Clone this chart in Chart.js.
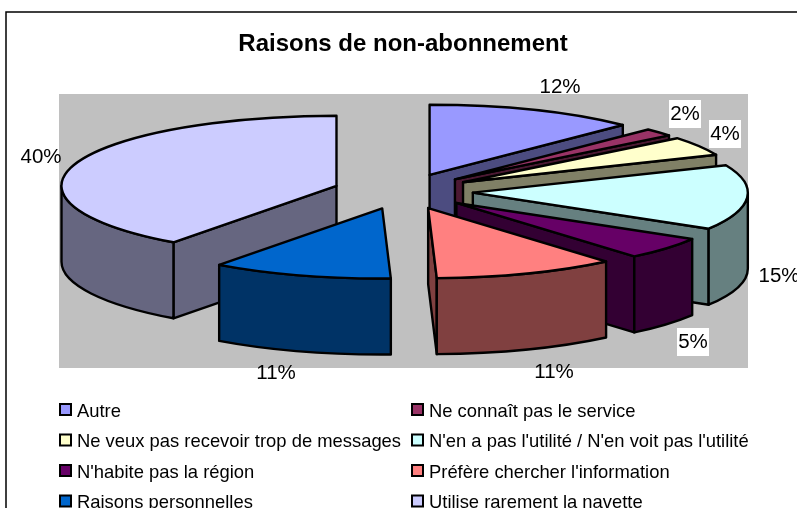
<!DOCTYPE html>
<html>
<head>
<meta charset="utf-8">
<style>
  html, body { margin: 0; padding: 0; background: #fff; overflow: hidden; }
  canvas { display: block; }
</style>
<script src="https://cdn.jsdelivr.net/npm/chart.js@4"></script>
</head>
<body>
<canvas id="pieChart" width="797" height="508"></canvas>
<script>
// Chart data (shares, the labels round them)
const categories = ['Autre', 'Ne connaît pas le service', 'Ne veux pas recevoir trop de messages',
    "N'en a pas l'utilité / N'en voit pas l'utilité", "N'habite pas la région",
    "Préfère chercher l'information", 'Raisons personnelles', 'Utilise rarement la navette'];
const values = [12.4, 1.8, 4.4, 15.0, 5.2, 10.7, 10.6, 39.9];

// Colours: top face and side wall of each slice
const faceColors = ['#9999FF', '#993366', '#FFFFCC', '#CCFFFF', '#660066', '#FF8080', '#0066CC', '#CCCCFF'];
const wallColors = ['#4C4C80', '#4C1933', '#808066', '#668080', '#330033', '#804040', '#003366', '#666680'];

// Where Excel left the percentage labels, [x, y, white box]
const labelSpots = [[560, 87, false], [685, 114, true], [725, 134, true], [779, 276, false],
    [693, 342, true], [554, 372, false], [276, 373, false], [41, 157, false]];

// Tilted pie settings
const squash = 0.255;
const depth = 76;
const explode = 70;
const FONT = '"Liberation Sans", Arial, sans-serif';

// Draw the pie as exploded, squashed slices with side walls
const tiltedPie = {
    id: 'tiltedPie',
    beforeDraw(chart) {
        const c = chart.ctx;
        c.save();
        c.strokeStyle = '#000';
        c.lineWidth = 1.5;
        c.strokeRect(6, 12, 820, 520); // frame runs off the right and bottom edge
        c.restore();
    },
    beforeDatasetDraw() {
        return false; // the stock flat arcs are replaced below
    },
    beforeDatasetsDraw(chart) {
        const c = chart.ctx;
        c.fillStyle = '#C0C0C0';
        c.fillRect(59, 94, 689, 274);
    },
    afterDatasetsDraw(chart) {
        const c = chart.ctx;
        const slices = chart.getDatasetMeta(0).data.map((arc, i) => {
            const mid = (arc.startAngle + arc.endAngle) / 2;
            return {
                i, r: arc.outerRadius, a: arc.startAngle, b: arc.endAngle,
                x: arc.x + Math.cos(mid) * explode,
                y: arc.y + Math.sin(mid) * explode * squash
            };
        });
        slices.sort((p, q) => p.y - q.y);

        c.save();
        c.strokeStyle = '#000';
        c.lineWidth = 2.4;
        c.lineJoin = 'round';
        slices.forEach((s) => {
            const paint = (color) => {
                c.fillStyle = color;
                c.fill();
                c.stroke();
            };
            const radialWall = (t) => {
                const px = s.x + Math.cos(t) * s.r;
                const py = s.y + Math.sin(t) * s.r * squash;
                c.beginPath();
                c.moveTo(s.x, s.y);
                c.lineTo(px, py);
                c.lineTo(px, py + depth);
                c.lineTo(s.x, s.y + depth);
                c.closePath();
                paint(wallColors[s.i]);
            };
            // only walls turned to the viewer
            if (Math.cos(s.a) < 0) radialWall(s.a);
            if (Math.cos(s.b) > 0) radialWall(s.b);

            const from = Math.max(s.a, 0);
            const to = Math.min(s.b, Math.PI);
            if (to > from) {
                c.beginPath();
                c.ellipse(s.x, s.y, s.r, s.r * squash, 0, from, to);
                c.ellipse(s.x, s.y + depth, s.r, s.r * squash, 0, to, from, true);
                c.closePath();
                paint(wallColors[s.i]);
            }

            c.beginPath();
            c.moveTo(s.x, s.y);
            c.ellipse(s.x, s.y, s.r, s.r * squash, 0, s.a, s.b);
            c.closePath();
            paint(faceColors[s.i]);
        });
        c.restore();

        // percentage labels
        c.save();
        c.font = '20.5px ' + FONT;
        c.textAlign = 'center';
        c.textBaseline = 'middle';
        values.forEach((v, i) => {
            const [x, y, box] = labelSpots[i];
            if (box) {
                c.fillStyle = '#fff';
                c.fillRect(x - 16, y - 14, 32, 28);
            }
            c.fillStyle = '#000';
            c.fillText(Math.round(v) + '%', x, y);
        });

        // two column legend
        c.font = '18.4px ' + FONT;
        c.textAlign = 'left';
        categories.forEach((name, i) => {
            const col = i % 2;
            const row = Math.floor(i / 2);
            const x = col ? 412 : 60;
            const y = 410 + row * 30.5;
            c.fillStyle = faceColors[i];
            c.strokeStyle = '#000';
            c.lineWidth = 2;
            c.fillRect(x, y - 6, 11, 11);
            c.strokeRect(x, y - 6, 11, 11);
            c.fillStyle = '#000';
            c.fillText(name, x + 17, y + 1.5);
        });
        c.restore();
    }
};

// Create the pie chart
const ctx = document.getElementById('pieChart').getContext('2d');
new Chart(ctx, {
    type: 'pie',
    data: {
        labels: categories,
        datasets: [{ data: values, backgroundColor: faceColors, borderColor: '#000' }]
    },
    options: {
        responsive: false,
        animation: false,
        radius: 275,
        layout: { padding: { left: 9, bottom: 185 } },
        plugins: {
            legend: { display: false },
            tooltip: { enabled: false },
            title: {
                display: true,
                text: 'Raisons de non-abonnement',
                color: '#000',
                fullSize: false,
                font: { family: FONT, size: 24, weight: 'bold' },
                padding: { top: 30, bottom: 1 }
            }
        }
    },
    plugins: [tiltedPie]
});
</script>
</body>
</html>
